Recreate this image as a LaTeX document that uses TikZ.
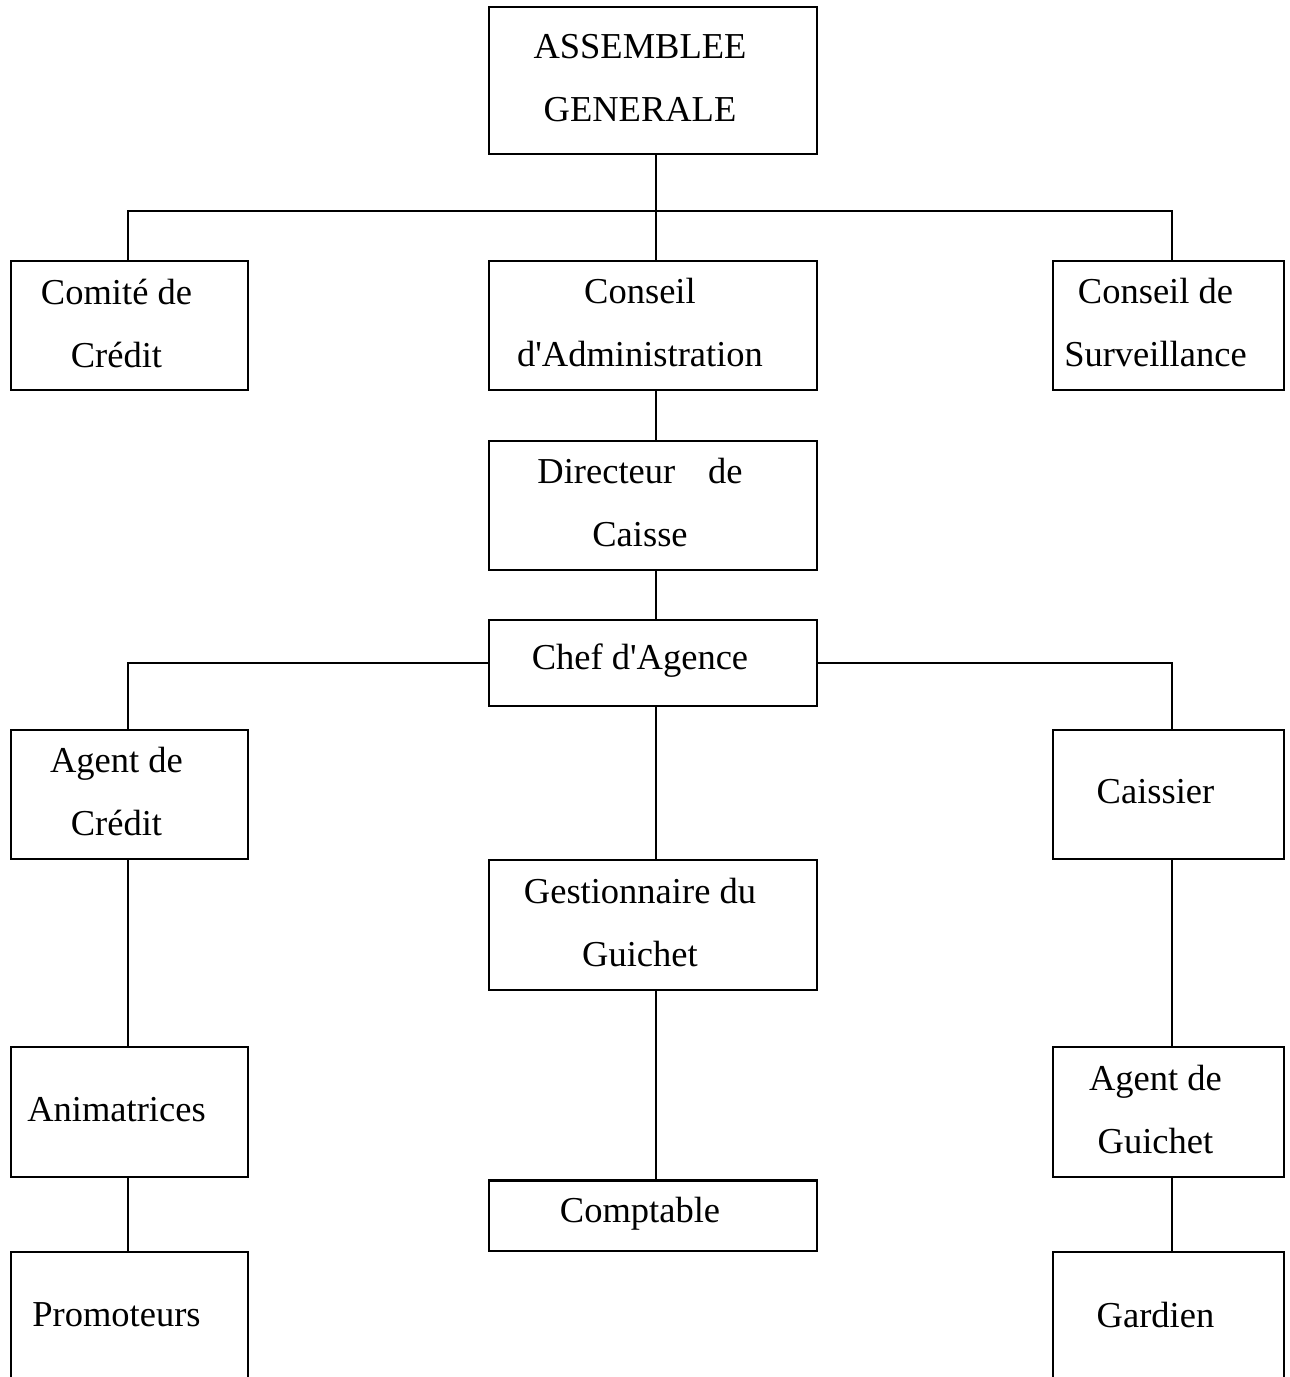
\documentclass[tikz,border=0pt]{standalone}
\usepackage{fontspec}
\setmainfont{Liberation Serif}
\usetikzlibrary{positioning}

\begin{document}
\begin{tikzpicture}[x=1pt,y=-1pt,
        box/.style={draw,line width=2pt,rectangle,inner sep=0pt,minimum height=129pt},
        wide/.style={box,minimum width=328pt},
        narrow/.style={box,minimum width=237pt},
        side/.style={box,minimum width=231pt},
        txt/.style={align=center,xshift=-13pt,yshift=2.5pt,font=\fontsize{36.5}{63}\selectfont}]
        \useasboundingbox (0,0) rectangle (1290,1377);
        \clip (0,0) rectangle (1290,1377);

        % top level
        \node[wide,minimum height=147pt,label={[txt]center:{ASSEMBLEE\\GENERALE}}] (ag) at (653,80.5) {};
        \node[narrow,label={[txt]center:{Comit\'e de\\Cr\'edit}}] (comite) at (129.5,325.5) {};
        \node[wide,label={[txt]center:{Conseil\\d\textquotesingle Administration}}] (conseil) at (653,325.5) {};
        \node[side,label={[txt]center:{Conseil de\\Surveillance}}] (surv) at (1168.5,325.5) {};
        \coordinate (bar) at (656,211);

        \draw[line width=2pt] ([xshift=3pt]ag.south) -- ([xshift=3pt]conseil.north);
        \draw[line width=2pt] ([xshift=-1.5pt]comite.north) |- (bar) -| ([xshift=3.5pt]surv.north);

        % direction
        \node[wide,label={[txt]center:{Directeur\hspace{0.9em}de\\Caisse}}] (dir) at (653,505.5) {};
        \node[wide,minimum height=86pt,label={[txt]center:{Chef d\textquotesingle Agence}}] (chef) at (653,663) {};
        \draw[line width=2pt] ([xshift=3pt]conseil.south) -- ([xshift=3pt]dir.north);
        \draw[line width=2pt] ([xshift=3pt]dir.south) -- ([xshift=3pt]chef.north);

        % branches
        \node[narrow,label={[txt]center:{Agent de\\Cr\'edit}}] (agcredit) at (129.5,794.5) {};
        \node[side,label={[txt]center:{Caissier}}] (caissier) at (1168.5,794.5) {};
        \node[wide,minimum height=130pt,label={[txt]center:{Gestionnaire du\\Guichet}}] (gest) at (653,925) {};
        \node[wide,minimum height=70pt,label={[txt]center:{Comptable}}] (compta) at (653,1216) {};
        \draw[line width=3pt] (compta.north west) -- (compta.north east);

        \draw[line width=2pt] (chef.west) -| ([xshift=-1.5pt]agcredit.north);
        \draw[line width=2pt] (chef.east) -| ([xshift=3.5pt]caissier.north);
        \draw[line width=2pt] ([xshift=3pt]chef.south) -- ([xshift=3pt]gest.north);
        \draw[line width=2pt] ([xshift=3pt]gest.south) -- ([xshift=3pt]compta.north);

        \node[narrow,minimum height=130pt,label={[txt]center:{Animatrices}}] (anim) at (129.5,1112) {};
        \node[narrow,minimum height=130pt,label={[txt]center:{Promoteurs}}] (promo) at (129.5,1317) {};
        \node[side,minimum height=130pt,label={[txt]center:{Agent de\\Guichet}}] (agguichet) at (1168.5,1112) {};
        \node[side,minimum height=130pt,label={[txt]center:{Gardien}}] (gardien) at (1168.5,1317) {};

        \draw[line width=2pt] ([xshift=-1.5pt]agcredit.south) -- ([xshift=-1.5pt]anim.north);
        \draw[line width=2pt] ([xshift=-1.5pt]anim.south) -- ([xshift=-1.5pt]promo.north);
        \draw[line width=2pt] ([xshift=3.5pt]caissier.south) -- ([xshift=3.5pt]agguichet.north);
        \draw[line width=2pt] ([xshift=3.5pt]agguichet.south) -- ([xshift=3.5pt]gardien.north);
      \end{tikzpicture}
\end{document}
